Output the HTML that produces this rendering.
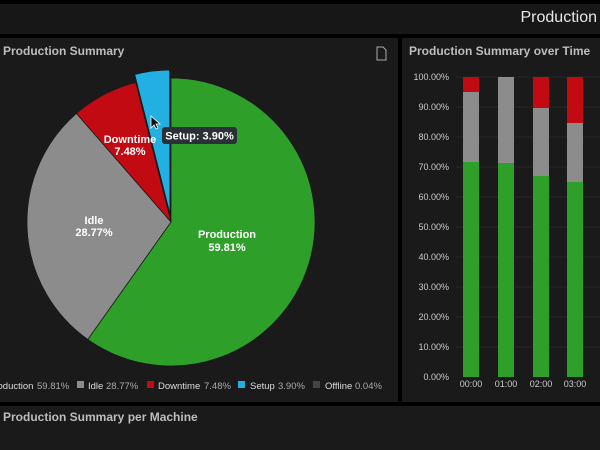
<!DOCTYPE html>
<html><head><meta charset="utf-8"><style>
html,body{margin:0;padding:0;width:600px;height:450px;overflow:hidden;background:#000;font-family:"Liberation Sans",sans-serif;}
.p{position:absolute;background:#1a1a1a;}
.t{position:absolute;color:#bdbdbd;font-size:12px;font-weight:bold;}
</style></head><body>
<div class="p" style="left:0;top:4px;width:600px;height:30px;background:#171717"></div>
<div style="position:absolute;right:3px;top:9px;color:#e8e8e8;font-size:16px;">Production</div>
<div class="p" style="left:0;top:38px;width:398px;height:364px"></div>
<div class="p" style="left:402px;top:38px;width:198px;height:364px"></div>
<div class="p" style="left:0;top:406px;width:600px;height:44px"></div>
<div class="t" style="left:3px;top:44px">Production Summary</div>
<div class="t" style="left:409px;top:44px">Production Summary over Time</div>
<div class="t" style="left:3px;top:410px">Production Summary per Machine</div>
<svg width="600" height="450" style="position:absolute;left:0;top:0" font-family="Liberation Sans, sans-serif">
<path d="M377 47h6l3 3v10h-9z" fill="none" stroke="#aaa" stroke-width="1"/>
<path d="M171 222 L171 78 A144 144 0 1 1 87.8 339.5 Z" fill="#2ea02a" stroke="#1a1a1a" stroke-width="0.8"/>
<path d="M171 222 L87.8 339.5 A144 144 0 0 1 76.4 113.4 Z" fill="#8c8c8c" stroke="#1a1a1a" stroke-width="0.8"/>
<path d="M171 222 L76.4 113.4 A144 144 0 0 1 135.7 82.5 Z" fill="#c20a12" stroke="#1a1a1a" stroke-width="0.8"/>
<path d="M170 214 L134.7 74.5 A144 144 0 0 1 169.6 70 Z" fill="#22b0e2" stroke="#1a1a1a" stroke-width="0.8"/>
<g fill="#fff" font-size="11" font-weight="bold" text-anchor="middle">
<text x="227" y="238">Production</text><text x="227" y="251">59.81%</text>
<text x="94" y="224">Idle</text><text x="94" y="236">28.77%</text>
<text x="130" y="143">Downtime</text><text x="130" y="155">7.48%</text>
</g>
<path d="M151 116 l0 12 l3-3 l2 4 l2-1 l-2-4 l4 0z" fill="#111" stroke="#fff" stroke-width="0.8"/>
<rect x="162" y="127" width="75" height="17" rx="3" fill="#2b2f38"/>
<text x="199.5" y="139.5" fill="#fff" font-size="11" font-weight="bold" text-anchor="middle">Setup: 3.90%</text>
<g font-size="9.5" fill="#ddd">
<text x="-12" y="389">Production</text><text x="37" y="389" fill="#aaa">59.81%</text>
<rect x="77" y="381" width="7" height="7" fill="#8c8c8c"/><text x="88" y="389">Idle</text><text x="106" y="389" fill="#aaa">28.77%</text>
<rect x="147" y="381" width="7" height="7" fill="#c20a12"/><text x="158" y="389">Downtime</text><text x="204" y="389" fill="#aaa">7.48%</text>
<rect x="238" y="381" width="7" height="7" fill="#22b0e2"/><text x="250" y="389">Setup</text><text x="278" y="389" fill="#aaa">3.90%</text>
<rect x="313" y="381" width="7" height="7" fill="#444"/><text x="325" y="389">Offline</text><text x="355" y="389" fill="#aaa">0.04%</text>
</g>
<g font-size="9" fill="#ccc" text-anchor="end">
<text x="449" y="80">100.00%</text><text x="449" y="110">90.00%</text><text x="449" y="140">80.00%</text><text x="449" y="170">70.00%</text><text x="449" y="200">60.00%</text><text x="449" y="230">50.00%</text><text x="449" y="260">40.00%</text><text x="449" y="290">30.00%</text><text x="449" y="320">20.00%</text><text x="449" y="350">10.00%</text><text x="449" y="380">0.00%</text>
</g>
<g stroke="#262626" stroke-width="1">
<line x1="456" x2="600" y1="77" y2="77"/><line x1="456" x2="600" y1="107" y2="107"/><line x1="456" x2="600" y1="137" y2="137"/><line x1="456" x2="600" y1="167" y2="167"/><line x1="456" x2="600" y1="197" y2="197"/><line x1="456" x2="600" y1="227" y2="227"/><line x1="456" x2="600" y1="257" y2="257"/><line x1="456" x2="600" y1="287" y2="287"/><line x1="456" x2="600" y1="317" y2="317"/><line x1="456" x2="600" y1="347" y2="347"/>
</g>
<g>
<rect x="463" y="77" width="16" height="15" fill="#c20a12"/><rect x="463" y="92" width="16" height="70" fill="#8c8c8c"/><rect x="463" y="162" width="16" height="215" fill="#2ea02a"/>
<rect x="498" y="77" width="16" height="86" fill="#8c8c8c"/><rect x="498" y="163" width="16" height="214" fill="#2ea02a"/>
<rect x="533" y="77" width="16" height="31" fill="#c20a12"/><rect x="533" y="108" width="16" height="68" fill="#8c8c8c"/><rect x="533" y="176" width="16" height="201" fill="#2ea02a"/>
<rect x="567" y="77" width="16" height="46" fill="#c20a12"/><rect x="567" y="123" width="16" height="59" fill="#8c8c8c"/><rect x="567" y="182" width="16" height="195" fill="#2ea02a"/>
</g>
<g font-size="9" fill="#ccc" text-anchor="middle">
<text x="471" y="387">00:00</text><text x="506" y="387">01:00</text><text x="541" y="387">02:00</text><text x="575" y="387">03:00</text>
</g>
</svg>
</body></html>
